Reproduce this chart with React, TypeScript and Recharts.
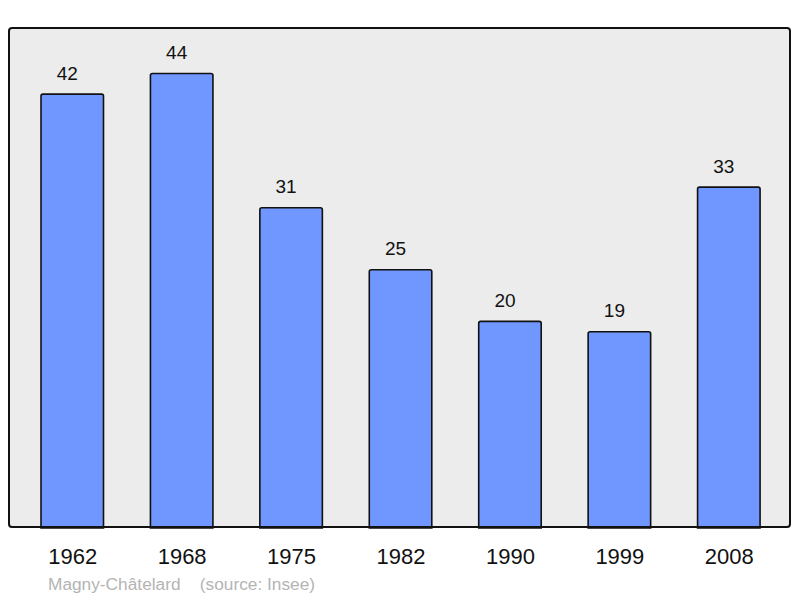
import React from 'react';
import { BarChart, Bar, XAxis, YAxis, CartesianGrid, LabelList } from 'recharts';

const years = ['1962', '1968', '1975', '1982', '1990', '1999', '2008'];
const population = [42, 44, 31, 25, 20, 19, 33];
const footerText = 'Magny-Châtelard    (source: Insee)';

const data = years.map((y, i) => ({ year: y, value: population[i] }));

const FONT = '"Liberation Sans", Arial, sans-serif';

export default function App() {
  return (
    <div style={{ position: 'absolute', left: 0, top: 0, width: 800, height: 598, background: '#fff', fontFamily: FONT }}>
      <BarChart
        width={800}
        height={598}
        data={data}
        margin={{ top: 28, right: 10, left: 9, bottom: 0 }}
        barSize={62.5}
      >
        <CartesianGrid horizontal={false} vertical={false} fill="#ececec" />
        <XAxis
          dataKey="year"
          height={70}
          axisLine={false}
          tickLine={false}
          tickSize={0}
          tickMargin={20}
          padding={{ left: 9, right: 6 }}
          tick={{ fill: '#111', fontSize: 22, fontFamily: FONT }}
          interval={0}
        />
        <YAxis hide domain={[0, 48.4]} />
        <Bar dataKey="value" fill="#7097ff" stroke="#111" strokeWidth={1.6} radius={[2, 2, 0, 0]} isAnimationActive={false}>
          <LabelList dataKey="value" position="top" offset={14.5} dx={-5} style={{ fill: '#111', fontSize: 19, fontFamily: FONT }} />
        </Bar>
      </BarChart>
      <div
        style={{
          position: 'absolute',
          left: 8,
          top: 27,
          width: 783,
          height: 501,
          boxSizing: 'border-box',
          border: '2px solid #111',
          borderRadius: 4,
          pointerEvents: 'none',
        }}
      />
      <div
        style={{
          position: 'absolute',
          left: 48,
          top: 574,
          fontSize: 17.3,
          color: '#b4b4b4',
          whiteSpace: 'pre',
          fontFamily: FONT,
        }}
      >
        {footerText}
      </div>
    </div>
  );
}
